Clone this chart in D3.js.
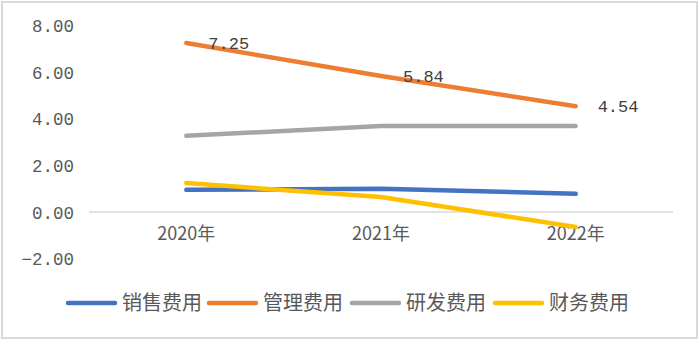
<!DOCTYPE html>
<html><head><meta charset="utf-8">
<script src="https://cdn.jsdelivr.net/npm/d3@7"></script>
<style>html,body{margin:0;padding:0;background:#fff;}svg{display:block;}</style>
</head><body><svg id="c" width="700" height="341"></svg>
<script>
const categories = ["2020年", "2021年", "2022年"];
const seriesNames = ["销售费用", "管理费用", "研发费用", "财务费用"];
const sales = [0.95, 1.00, 0.78];
const admin = [7.25, 5.84, 4.54];
const rnd = [3.27, 3.69, 3.69];
const finance = [1.24, 0.64, -0.64];
const yTicks = [-2, 0, 2, 4, 6, 8];
const colors = ["#4472C4", "#ED7D31", "#A5A5A5", "#FFC000"];

const svg = d3.select("#c");
const W = 700, H = 341;
svg.append("rect").attr("x", 2).attr("y", 2).attr("width", W - 5).attr("height", H - 5)
  .attr("fill", "#fff").attr("stroke", "#d9d9d9").attr("stroke-width", 2);

const x = d3.scaleBand().domain(categories).range([89, 673]);
const y = d3.scaleLinear().domain([-2, 8]).range([258.6, 25.6]);
const mono = "'Liberation Mono', 'DejaVu Sans Mono', monospace";
const cjk = "'Noto Sans CJK SC', 'Noto Sans', sans-serif";

// y axis labels
const yAxis = d3.axisLeft(y).tickValues(yTicks).tickSize(0).tickPadding(0)
  .tickFormat(d => (d < 0 ? "−" : "") + Math.abs(d).toFixed(2));
const ga = svg.append("g").attr("transform", "translate(74,0)").call(yAxis);
ga.select(".domain").remove();
ga.selectAll("text").attr("fill", "#595959").attr("font-family", mono).attr("font-size", 17.5)
  .attr("dy", "0.35em");

// zero line
svg.append("line").attr("x1", 89).attr("x2", 673).attr("y1", y(0)).attr("y2", y(0))
  .attr("stroke", "#d9d9d9").attr("stroke-width", 1.5);

// x labels
const xAxis = d3.axisBottom(x).tickSize(0).tickPadding(0);
const gx = svg.append("g").attr("transform", "translate(0,227)").call(xAxis);
gx.select(".domain").remove();
gx.selectAll("text").attr("fill", "#595959").attr("font-family", cjk).attr("font-size", 18)
  .attr("dy", "0.71em");

const data = [sales, admin, rnd, finance];
const line = d3.line().x((d, i) => x(categories[i]) + x.bandwidth() / 2).y(d => y(d));
data.forEach((s, k) => {
  svg.append("path").datum(s).attr("d", line).attr("fill", "none")
    .attr("stroke", colors[k]).attr("stroke-width", 4.5)
    .attr("stroke-linecap", "round").attr("stroke-linejoin", "round");
});

// data labels for 管理费用
svg.selectAll(".lbl").data(admin).enter().append("text")
  .attr("x", (d, i) => x(categories[i]) + x.bandwidth() / 2 + 22)
  .attr("y", d => y(d)).attr("dy", "0.35em")
  .attr("font-family", mono).attr("font-size", 17).attr("fill", "#404040")
  .text(d => d.toFixed(2));

// legend
const legX = [68, 209, 352, 495];
seriesNames.forEach((n, k) => {
  const g = svg.append("g").attr("transform", `translate(${legX[k]},303)`);
  g.append("line").attr("x1", 0).attr("x2", 47).attr("y1", 0).attr("y2", 0)
    .attr("stroke", colors[k]).attr("stroke-width", 4.5).attr("stroke-linecap", "round");
  g.append("text").attr("x", 54).attr("y", 0).attr("dy", "0.35em")
    .attr("font-family", cjk).attr("font-size", 20).attr("fill", "#595959").text(n);
});
</script></body></html>
